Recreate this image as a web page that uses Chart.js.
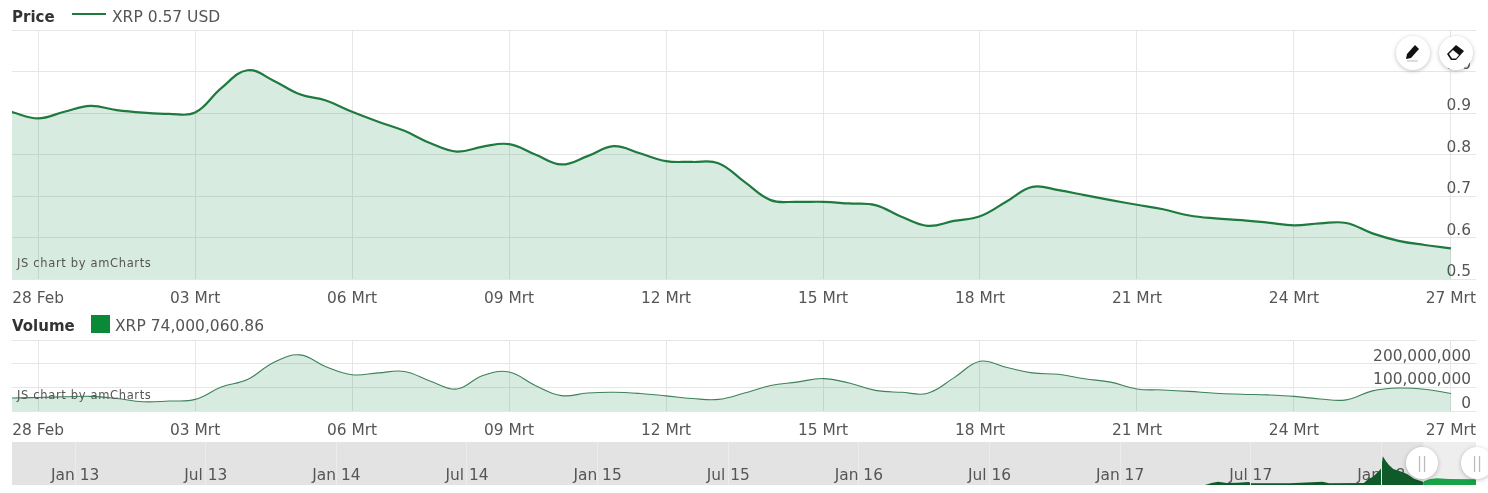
<!DOCTYPE html>
<html lang="en">
<head>
<meta charset="UTF-8">
<title>XRP price and volume</title>
<script src="https://cdn.jsdelivr.net/npm/chart.js"></script>
<style>
    body { margin: 0; background: #fff; font-family: "DejaVu Sans", sans-serif; }
    #page { position: relative; width: 1488px; height: 493px; overflow: hidden; }
    canvas { position: absolute; left: 0; }
    .txt { position: absolute; white-space: nowrap; font-size: 15.5px; line-height: 18px; color: #555; }
    .title { font-weight: bold; color: #333; font-size: 15px; }
    .credit { position: absolute; left: 17px; font-size: 11.5px; line-height: 14px; letter-spacing: .65px; color: #555; }
    .round { position: absolute; width: 34px; height: 34px; border-radius: 50%; background: #fff; box-shadow: 0 1px 4px rgba(0,0,0,.25); }
    .round svg { position: absolute; left: 7px; top: 7px; }
    .grip { position: absolute; width: 32px; height: 32px; border-radius: 50%; background: #fff; box-shadow: 0 1px 4px rgba(0,0,0,.25); color: #bbb; text-align: center; font-size: 15px; line-height: 32px; }
</style>
</head>
<body>
<div id="page">
    <canvas id="priceChart" width="1488" height="312" style="top:0"></canvas>
    <canvas id="volumeChart" width="1488" height="111" style="top:330px"></canvas>
    <canvas id="navChart" width="1488" height="47" style="top:442px"></canvas>

    <span class="txt title" style="left:12px;top:8px">Price</span>
    <span style="position:absolute;left:72px;top:13px;width:34px;height:2px;background:#1f7a3f"></span>
    <span class="txt" style="left:112px;top:8px">XRP 0.57 USD</span>
    <span class="txt title" style="left:12px;top:317px">Volume</span>
    <span style="position:absolute;left:91px;top:315px;width:19px;height:18px;background:#0a8a38"></span>
    <span class="txt" style="left:115px;top:317px">XRP 74,000,060.86</span>

    <span class="credit" style="top:256px">JS chart by amCharts</span>
    <span class="credit" style="top:388px">JS chart by amCharts</span>

    <div class="round" style="left:1396px;top:36px">
        <svg width="20" height="20" viewBox="0 0 20 20"><path d="M3 16l1-5 8-9 4 4-8 9z" fill="#111"/><path d="M4 18h11" stroke="#bbb" stroke-width="1"/></svg>
    </div>
    <div class="round" style="left:1439px;top:36px">
        <svg width="20" height="20" viewBox="0 0 20 20"><path d="M1 11l9-9 8 6-8 9H5z" fill="#111"/><path d="M3 11l4-4 6 5-3 3.500H6z" fill="#fff"/></svg>
    </div>
    <div class="grip" style="left:1406px;top:447px">||</div>
    <div class="grip" style="left:1461px;top:447px">||</div>
</div>

<script>
    // days counted from 28 Feb, every half day; the first one sits just outside the plot
    const days = [-1,-0.5,0,0.5,1,1.5,2,2.5,3,3.5,4,4.5,5,5.5,6,6.5,7,7.5,8,8.5,9,9.5,10,10.5,11,11.5,12,12.5,13,13.5,14,14.5,15,15.5,16,16.5,17,17.5,18,18.5,19,19.5,20,20.5,21,21.5,22,22.5,23,23.5,24,24.5,25,25.5,26,26.5,27];
    const priceValues = [0.919,0.902,0.887,0.903,0.917,0.907,0.901,0.898,0.901,0.960,1.003,0.978,0.945,0.930,0.903,0.879,0.857,0.827,0.807,0.819,0.825,0.800,0.776,0.796,0.820,0.803,0.784,0.782,0.779,0.734,0.690,0.686,0.686,0.682,0.678,0.650,0.628,0.640,0.651,0.686,0.722,0.714,0.702,0.690,0.679,0.668,0.653,0.646,0.642,0.636,0.629,0.634,0.635,0.610,0.592,0.582,0.574];
    const volumeValues = [56e6,55e6,57e6,60e6,62e6,53e6,39e6,42e6,49e6,101e6,133e6,205e6,237e6,187e6,153e6,161e6,167e6,126e6,93e6,150e6,165e6,108e6,65e6,76e6,79e6,74e6,64e6,53e6,49e6,76e6,108e6,122e6,137e6,118e6,87e6,79e6,75e6,140e6,210e6,185e6,161e6,155e6,136e6,122e6,93e6,89e6,83e6,75e6,71e6,68e6,62e6,51e6,47e6,85e6,97e6,92e6,74e6];

    const dayTicks = [0,3,6,9,12,15,18,21,24,27];
    const dayLabels = ['28 Feb','03 Mrt','06 Mrt','09 Mrt','12 Mrt','15 Mrt','18 Mrt','21 Mrt','24 Mrt','27 Mrt'];
    const priceTicks = [0.5,0.6,0.7,0.8,0.9,1.0,1.1];
    const priceLabels = ['0.5','0.6','0.7','0.8','0.9','1.0',''];
    const volumeTicks = [0,100e6,200e6,300e6];
    const volumeLabels = ['0','100,000,000','200,000,000',''];

    // scrollbar: months counted from Jan 2013, volume in billions
    const navMonths = [51.9,52.2,52.5,52.9,53.4,53.9,54.05,55.8,57.3,57.6,59.2,59.4,59.6,59.8,60.0,60.07,60.2,60.35,60.55,60.8,61.0,61.2,61.5,61.95];
    const navValues = [0,0.6,1.0,0.6,0.7,0.9,0.5,0.5,1.0,0.5,0.6,1.8,2.4,3.6,5.0,8.6,7.3,6.0,4.8,4.3,3.8,3.2,1.9,0.9];
    const selMonths = [61.95,62.2,62.55,63.1,64.3,64.4];
    const selValues = [1.1,1.7,2.0,1.8,1.7,1.3];
    const navTicks = [0,6,12,18,24,30,36,42,48,54,60];
    const navLabels = ['Jan 13','Jul 13','Jan 14','Jul 14','Jan 15','Jul 15','Jan 16','Jul 16','Jan 17','Jul 17','Jan 18'];
    const selectionStart = 61.95;

    const FONT = { family: '"DejaVu Sans", sans-serif', size: 15.4 };
    const GRID = '#e6e6e6';
    const TEXT = '#555';

    function pairs(xs, ys) {
        return xs.map((x, i) => ({ x: x, y: ys[i] }));
    }

    function fixedTicks(values, labels, extra) {
        return Object.assign({
            afterBuildTicks: scale => { scale.ticks = values.map(v => ({ value: v })); },
            ticks: {
                autoSkip: false,
                maxRotation: 0,
                color: TEXT,
                font: FONT,
                callback: v => labels[values.indexOf(v)]
            }
        }, extra);
    }

    // keep the plot rectangle fixed, labels may reach past it
    function noMargins(scale) {
        scale.paddingLeft = 0;
        scale.paddingRight = 0;
        scale.paddingTop = 0;
        scale.paddingBottom = 0;
    }

    function stockChart(id, xs, ys, yTicks, yLabels, yMax, top, axisHeight, lineWidth, lineColor) {
        // two line labels with an empty second line, so the text sits on top of its gridline
        const yScale = fixedTicks(yTicks, yLabels.map(l => [l, '']), {
            position: 'right',
            min: yTicks[0],
            max: yMax,
            border: { display: false },
            grid: { color: GRID, drawTicks: false },
            afterFit: noMargins
        });
        yScale.ticks.mirror = true;
        yScale.ticks.padding = -5;
        yScale.ticks.font = Object.assign({}, FONT, { lineHeight: 0.9 });

        const xScale = fixedTicks(dayTicks, dayLabels, {
            type: 'linear',
            min: -0.5,
            max: 27.48,
            border: { display: false },
            grid: { color: GRID, drawTicks: false },
            afterFit: scale => { noMargins(scale); scale.height = axisHeight; }
        });
        xScale.ticks.padding = 11;

        return new Chart(document.getElementById(id), {
            type: 'line',
            data: {
                datasets: [{
                    data: pairs(xs, ys),
                    borderColor: lineColor,
                    borderWidth: lineWidth,
                    backgroundColor: 'rgba(10,130,60,.16)',
                    fill: 'start',
                    pointRadius: 0,
                    tension: 0.4
                }]
            },
            options: {
                responsive: false,
                animation: false,
                layout: { padding: { left: 12, right: 12, top: top, bottom: 0 } },
                plugins: { legend: { display: false }, tooltip: { enabled: false } },
                scales: { x: xScale, y: yScale }
            }
        });
    }

    stockChart('priceChart', days, priceValues, priceTicks, priceLabels, 1.1, 30, 33, 2.2, '#1f7a3f');
    stockChart('volumeChart', days, volumeValues, volumeTicks, volumeLabels, 300e6, 10, 30, 1.1, '#3d8258');

    // gray scrollbar background, lighter behind the selected range
    const navBackground = {
        id: 'navBackground',
        beforeDraw(chart) {
            const { ctx, chartArea: a, scales } = chart;
            const sel = scales.x.getPixelForValue(selectionStart);
            ctx.save();
            ctx.fillStyle = '#e3e3e3';
            ctx.fillRect(a.left, a.top, sel - a.left, a.height);
            ctx.fillStyle = '#eeeeee';
            ctx.fillRect(sel, a.top, a.right - sel, a.height);
            ctx.restore();
        }
    };

    const navX = fixedTicks(navTicks, navLabels, {
        type: 'linear',
        min: -2.9,
        max: 64.35,
        border: { display: false },
        grid: { color: '#ececec', drawTicks: false, z: 1 },
        afterFit: scale => { noMargins(scale); scale.height = 4; }
    });
    navX.ticks.mirror = true;
    navX.ticks.padding = 0;

    new Chart(document.getElementById('navChart'), {
        type: 'line',
        data: {
            datasets: [
                { data: pairs(navMonths, navValues), borderWidth: 0, backgroundColor: '#0e5a28', fill: 'start', pointRadius: 0 },
                { data: pairs(selMonths, selValues), borderWidth: 0, backgroundColor: '#18a348', fill: 'start', pointRadius: 0 }
            ]
        },
        options: {
            responsive: false,
            animation: false,
            layout: { padding: { left: 12, right: 12, top: 0, bottom: 0 } },
            plugins: { legend: { display: false }, tooltip: { enabled: false } },
            scales: {
                x: navX,
                y: { display: false, min: 0, max: 12.9 }
            }
        },
        plugins: [navBackground]
    });
</script>
</body>
</html>
